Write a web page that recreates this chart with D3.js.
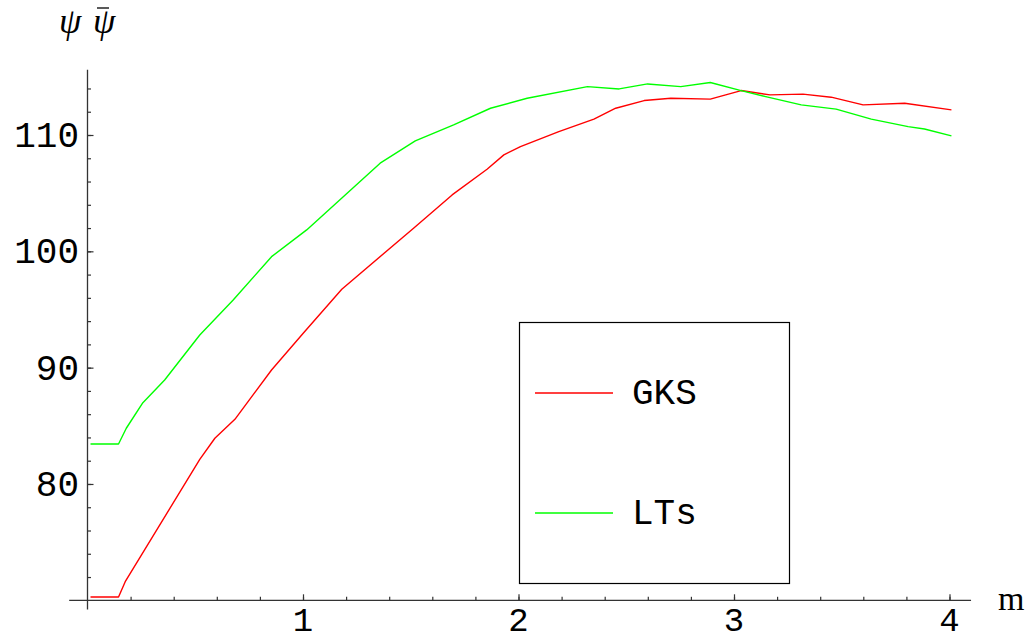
<!DOCTYPE html>
<html>
<head>
<meta charset="utf-8">
<script src="https://cdn.jsdelivr.net/npm/d3@7"></script>
<style>
  body { margin: 0; background: #fff; }
  svg text { fill: #000; }
</style>
</head>
<body>
<div id="graph"></div>
<script>
// values (m, value)
const gksM   = [0.014, 0.144, 0.175, 0.521, 0.591, 0.684, 0.854, 1.001, 1.18, 1.513, 1.692, 1.854, 1.932, 2.009, 2.187, 2.35, 2.451, 2.583, 2.707, 2.89, 3.033, 3.167, 3.32, 3.451, 3.599, 3.792, 4.009]
const gksVal = [70.28, 70.28, 71.6, 82.12, 83.93, 85.56, 89.8, 92.96, 96.74, 101.99, 104.85, 107.06, 108.29, 109.0, 110.29, 111.36, 112.3, 112.96, 113.16, 113.08, 113.82, 113.45, 113.51, 113.25, 112.59, 112.73, 112.16]

const ltsM   = [0.014, 0.144, 0.18, 0.257, 0.358, 0.521, 0.676, 0.854, 1.017, 1.358, 1.521, 1.699, 1.87, 2.04, 2.32, 2.467, 2.599, 2.753, 2.89, 3.033, 3.157, 3.312, 3.474, 3.637, 3.808, 3.884, 4.009]
const ltsVal = [83.44, 83.44, 84.79, 86.99, 88.94, 92.81, 95.82, 99.54, 101.84, 107.58, 109.49, 110.87, 112.3, 113.16, 114.16, 113.96, 114.39, 114.16, 114.51, 113.82, 113.25, 112.59, 112.22, 111.36, 110.72, 110.52, 109.92]

const xMajor = [1, 2, 3, 4]
const yMajor = [80, 90, 100, 110]
const xMinor = d3.range(1, 21).map(i => i * 0.2)
const yMinor = d3.range(36, 58).map(i => i * 2)

const seriesNames = ["GKS", "LTs"]
const seriesColors = ["#ff0000", "#00ff00"]

const width = 1026, height = 641

let svg = d3.select("#graph")
    .append("svg")
    .attr("width", width)
    .attr("height", height)

let x = d3.scaleLinear().domain([0, 4]).range([87.5, 949.5])
let y = d3.scaleLinear().domain([70, 110]).range([600.3, 135])

const axisColor = "#333"
const monoFont = "'Liberation Mono', 'DejaVu Sans Mono', monospace"
const serifFont = "'Liberation Serif', 'DejaVu Serif', serif"

// axis lines
svg.append("line")
    .attr("x1", x(-0.085)).attr("x2", x(4.1))
    .attr("y1", y(70)).attr("y2", y(70))
    .attr("stroke", axisColor).attr("stroke-width", 1.3)
svg.append("line")
    .attr("x1", x(0)).attr("x2", x(0))
    .attr("y1", y(115.6)).attr("y2", y(69.2))
    .attr("stroke", axisColor).attr("stroke-width", 1.3)

// x ticks
let gx = svg.append("g").attr("transform", "translate(0," + y(70) + ")")
gx.call(d3.axisBottom(x).tickValues(xMinor).tickSize(-3.5).tickFormat(""))
gx.append("g").call(d3.axisBottom(x).tickValues(xMajor).tickSize(-6).tickFormat(""))
gx.selectAll(".domain").remove()
gx.selectAll("line").attr("stroke", axisColor).attr("stroke-width", 1.2)

// y ticks
let gy = svg.append("g").attr("transform", "translate(" + x(0) + ",0)")
gy.call(d3.axisLeft(y).tickValues(yMinor).tickSize(-3.5).tickFormat(""))
gy.append("g").call(d3.axisLeft(y).tickValues(yMajor).tickSize(-6).tickFormat(""))
gy.selectAll(".domain").remove()
gy.selectAll("line").attr("stroke", axisColor).attr("stroke-width", 1.2)

// tick labels
svg.append("g").selectAll("text")
    .data(xMajor)
    .join("text")
    .attr("x", d => x(d))
    .attr("y", 631)
    .attr("text-anchor", "middle")
    .style("font-family", monoFont)
    .style("font-size", "34px")
    .text(d => d)

svg.append("g").selectAll("text")
    .data(yMajor)
    .join("text")
    .attr("x", 79)
    .attr("y", d => y(d) + 12)
    .attr("text-anchor", "end")
    .style("font-family", monoFont)
    .style("font-size", "36px")
    .text(d => d)

// axis labels
svg.append("text")
    .attr("x", 998).attr("y", 610)
    .style("font-family", serifFont)
    .style("font-size", "34px")
    .text("m")

// psi psi-bar
svg.append("text")
    .attr("x", 59).attr("y", 33)
    .style("font-family", serifFont)
    .style("font-style", "italic")
    .style("font-size", "36px")
    .text("\u03C8")
svg.append("text")
    .attr("x", 93).attr("y", 33)
    .style("font-family", serifFont)
    .style("font-style", "italic")
    .style("font-size", "36px")
    .text("\u03C8")
svg.append("line")
    .attr("x1", 97).attr("x2", 109)
    .attr("y1", 8).attr("y2", 8)
    .attr("stroke", "#000").attr("stroke-width", 1.3)

// curves
let line = d3.line().x(d => x(d[0])).y(d => y(d[1]))
const series = [d3.zip(gksM, gksVal), d3.zip(ltsM, ltsVal)]

svg.append("g").selectAll("path")
    .data(series)
    .join("path")
    .attr("d", line)
    .attr("fill", "none")
    .attr("stroke", (d, i) => seriesColors[i])
    .attr("stroke-width", 1.4)
    .attr("stroke-linejoin", "round")

// legend
let legend = svg.append("g")
legend.append("rect")
    .attr("x", 519.5).attr("y", 322.5)
    .attr("width", 270).attr("height", 261)
    .attr("fill", "none")
    .attr("stroke", "#000").attr("stroke-width", 1.2)

const legendY = [393, 513]
seriesNames.forEach((name, i) => {
    legend.append("line")
        .attr("x1", 535).attr("x2", 613)
        .attr("y1", legendY[i]).attr("y2", legendY[i])
        .attr("stroke", seriesColors[i]).attr("stroke-width", 1.4)
    legend.append("text")
        .attr("x", 632).attr("y", legendY[i] + 11)
        .style("font-family", monoFont)
        .style("font-size", "36px")
        .text(name)
})
</script>
</body>
</html>
